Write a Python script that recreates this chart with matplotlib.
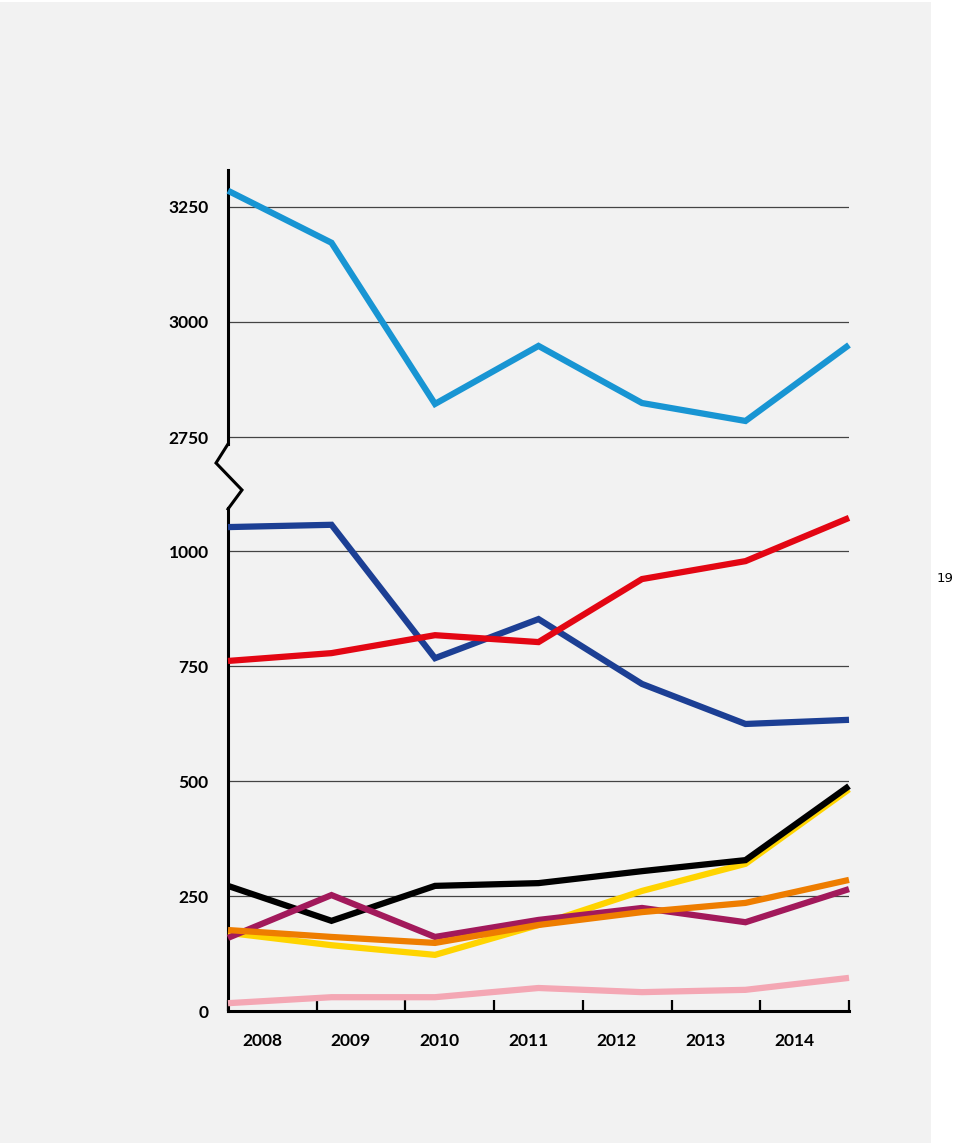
import matplotlib.pyplot as plt
from matplotlib.patches import Rectangle
from matplotlib.lines import Line2D

plt.rcParams['font.family'] = ['Lato', 'DejaVu Sans']

# data
years = ['2008', '2009', '2010', '2011', '2012', '2013', '2014']
light_blue = [3285, 3172, 2822, 2948, 2824, 2785, 2950]
dark_blue = [1052, 1057, 767, 852, 711, 624, 633]
red = [761, 778, 817, 802, 939, 978, 1072]
black = [272, 196, 272, 278, 304, 328, 489]
yellow = [170, 143, 122, 187, 261, 320, 482]
orange = [176, 161, 148, 187, 215, 235, 285]
purple = [159, 252, 161, 198, 224, 193, 265]
pink = [17, 30, 30, 50, 41, 46, 72]

upper_ticks = [2750, 3000, 3250]
lower_ticks = [0, 250, 500, 750, 1000]

W, H = 960, 1146
fig = plt.figure(figsize=(W / 100, H / 100), dpi=100)
fig.patch.set_facecolor('white')
fig.patches.append(Rectangle((0, 3 / H), 931 / W, 1141 / H, transform=fig.transFigure,
                             facecolor='#f2f2f2', edgecolor='none', zorder=-10))

x = list(range(len(years)))
left, width = 228 / W, 621 / W
ax_top = fig.add_axes([left, 1 - 444 / H, width, 274 / H])
ax_bot = fig.add_axes([left, 1 - 1011 / H, width, 503 / H])

lw = 4.5
kw = dict(lw=lw, solid_capstyle='butt', solid_joinstyle='miter', clip_on=False)

for ax in (ax_top, ax_bot):
    ax.set_facecolor('none')
    ax.set_xlim(0, 6)
    for s in ('top', 'right'):
        ax.spines[s].set_visible(False)
    ax.spines['left'].set_linewidth(2.2)
    ax.spines['bottom'].set_linewidth(2.2)
    ax.tick_params(axis='y', length=0, pad=14, labelsize=12.5)

# upper panel
ax_top.set_ylim(2735, 3330)
ax_top.spines['bottom'].set_visible(False)
ax_top.set_xticks([])
ax_top.set_yticks(upper_ticks)
ax_top.set_yticklabels([str(t) for t in upper_ticks], fontweight='bold')
for t in upper_ticks:
    ax_top.axhline(t, color='#444444', lw=0.9, zorder=1)
ax_top.plot(x, light_blue, color='#1895d3', zorder=3, **kw)

# lower panel
ax_bot.set_ylim(0, 1093.5)
ax_bot.set_yticks(lower_ticks)
ax_bot.set_yticklabels([str(t) for t in lower_ticks], fontweight='bold')
for t in lower_ticks[1:]:
    ax_bot.axhline(t, color='#444444', lw=0.9, zorder=1)

ax_bot.plot(x, pink, color='#f4a7b4', zorder=3, **kw)
ax_bot.plot(x, yellow, color='#ffd400', zorder=4, **kw)
ax_bot.plot(x, black, color='#000000', zorder=5, **kw)
ax_bot.plot(x, purple, color='#a2195b', zorder=6, **kw)
ax_bot.plot(x, orange, color='#ee7d00', zorder=7, **kw)
ax_bot.plot(x, dark_blue, color='#1c3f94', zorder=8, **kw)
ax_bot.plot(x, red, color='#e30613', zorder=9, **kw)

step = 6 / 7
ax_bot.set_xticks([k * step for k in range(8)])
ax_bot.set_xticklabels([])
ax_bot.tick_params(axis='x', which='major', direction='in', length=8, width=1.6)
ax_bot.set_xticks([(k + 0.5) * step - 0.1 for k in range(7)], minor=True)
ax_bot.set_xticklabels(years, minor=True, fontweight='bold', fontsize=12.5)
ax_bot.tick_params(axis='x', which='minor', length=0, pad=16)

# axis break zigzag
zz = [(228, 444), (216, 463), (242, 490), (228, 509)]
fig.add_artist(Line2D([p[0] / W for p in zz], [1 - p[1] / H for p in zz],
                      transform=fig.transFigure, color='black', lw=2.2,
                      solid_joinstyle='miter'))

fig.text(945 / W, 1 - 578 / H, '19', ha='center', va='center', fontsize=9.5,
         family='DejaVu Sans')

fig.savefig('out.png', dpi=100)
